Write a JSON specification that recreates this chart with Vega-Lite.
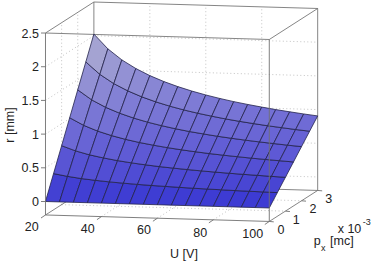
{"$schema":"https://vega.github.io/schema/vega-lite/v6.json","width":374,"height":263,"padding":0,"autosize":{"type":"none"},"background":"white","config":{"view":{"stroke":null}},
"encoding":{"x":{"field":"h","type":"quantitative","axis":null,"scale":{"domain":[3.74,137.43],"nice":false,"zero":false}},"y":{"field":"v","type":"quantitative","axis":null,"scale":{"domain":[-0.9125,2.99],"nice":false,"zero":false}}},
"layer":[
{"data":{"values":[
{"g":1,"h":[37.3,117.3],"v":[0.46,0.364]},{"g":2,"h":[37.3,117.3],"v":[0.96,0.864]},{"g":3,"h":[37.3,117.3],"v":[1.46,1.364]},{"g":4,"h":[37.3,117.3],"v":[1.96,1.864]},{"g":5,"h":[37.3,117.3],"v":[2.46,2.364]},
{"g":6,"h":[57.3,57.3],"v":[0.236,2.936]},{"g":7,"h":[77.3,77.3],"v":[0.212,2.912]},{"g":8,"h":[97.3,97.3],"v":[0.188,2.888]},
{"g":9,"h":[20,37.3],"v":[0,0.46]},{"g":10,"h":[20,37.3],"v":[0.5,0.96]},{"g":11,"h":[20,37.3],"v":[1,1.46]},{"g":12,"h":[20,37.3],"v":[1.5,1.96]},{"g":13,"h":[20,37.3],"v":[2,2.46]},
{"g":14,"h":[25.77,25.77],"v":[-0.047,2.653]},{"g":15,"h":[31.53,31.53],"v":[0.107,2.807]},
{"g":16,"h":[40,57.3],"v":[-0.224,0.236]},{"g":17,"h":[60,77.3],"v":[-0.248,0.212]},{"g":18,"h":[80,97.3],"v":[-0.272,0.188]},
{"g":19,"h":[25.77,105.77],"v":[-0.047,-0.143]},{"g":20,"h":[31.53,111.53],"v":[0.107,0.011]}]},
"transform":[{"flatten":["h","v"]},{"window":[{"op":"row_number","as":"o"}],"groupby":["g"]}],"mark":{"type":"line","stroke":"#b4b4b4","strokeWidth":0.8,"strokeDash":[1,2.5]},"encoding":{"detail":{"field":"g"},"order":{"field":"o","type":"quantitative"}}},
{"data":{"values":[
{"g":1,"h":[20,100,117.3,37.3,20],"v":[2.5,2.404,2.864,2.96,2.5]},
{"g":2,"h":[37.3,37.3],"v":[0.26,2.96]},{"g":3,"h":[117.3,117.3],"v":[0.164,2.864]},
{"g":4,"h":[20,37.3,117.3,100],"v":[-0.2,0.26,0.164,-0.296]}]},
"transform":[{"flatten":["h","v"]},{"window":[{"op":"row_number","as":"o"}],"groupby":["g"]}],"mark":{"type":"line","stroke":"#666666","strokeWidth":0.8},"encoding":{"detail":{"field":"g"},"order":{"field":"o","type":"quantitative"}}},
{"data":{"values":[
{"c":0,"z":0.16,"h":[20,25,27.88,22.88,20],"v":[0,-0.006,0.373,0.414,0]},
{"c":1,"z":0.48,"h":[22.88,27.88,30.77,25.77,22.88],"v":[0.414,0.373,0.751,0.828,0.414]},
{"c":2,"z":0.8,"h":[25.77,30.77,33.65,28.65,25.77],"v":[0.828,0.751,1.13,1.243,0.828]},
{"c":3,"z":1.12,"h":[28.65,33.65,36.53,31.53,28.65],"v":[1.243,1.13,1.508,1.657,1.243]},
{"c":4,"z":1.44,"h":[31.53,36.53,39.42,34.42,31.53],"v":[1.657,1.508,1.887,2.071,1.657]},
{"c":5,"z":1.76,"h":[34.42,39.42,42.3,37.3,34.42],"v":[2.071,1.887,2.265,2.485,2.071]},
{"c":10,"z":0.14,"h":[25,30,32.88,27.88,25],"v":[-0.006,-0.012,0.34,0.373,-0.006]},
{"c":11,"z":0.43,"h":[27.88,32.88,35.77,30.77,27.88],"v":[0.373,0.34,0.692,0.751,0.373]},
{"c":12,"z":0.72,"h":[30.77,35.77,38.65,33.65,30.77],"v":[0.751,0.692,1.045,1.13,0.751]},
{"c":13,"z":1.01,"h":[33.65,38.65,41.53,36.53,33.65],"v":[1.13,1.045,1.397,1.508,1.13]},
{"c":14,"z":1.3,"h":[36.53,41.53,44.42,39.42,36.53],"v":[1.508,1.397,1.749,1.887,1.508]},
{"c":15,"z":1.59,"h":[39.42,44.42,47.3,42.3,39.42],"v":[1.887,1.749,2.101,2.265,1.887]},
{"c":20,"z":0.13,"h":[30,35,37.88,32.88,30],"v":[-0.012,-0.018,0.314,0.34,-0.012]},
{"c":21,"z":0.4,"h":[32.88,37.88,40.77,35.77,32.88],"v":[0.34,0.314,0.646,0.692,0.34]},
{"c":22,"z":0.66,"h":[35.77,40.77,43.65,38.65,35.77],"v":[0.692,0.646,0.978,1.045,0.692]},
{"c":23,"z":0.93,"h":[38.65,43.65,46.53,41.53,38.65],"v":[1.045,0.978,1.31,1.397,1.045]},
{"c":24,"z":1.19,"h":[41.53,46.53,49.42,44.42,41.53],"v":[1.397,1.31,1.642,1.749,1.397]},
{"c":25,"z":1.46,"h":[44.42,49.42,52.3,47.3,44.42],"v":[1.749,1.642,1.973,2.101,1.749]},
{"c":30,"z":0.12,"h":[35,40,42.88,37.88,35],"v":[-0.018,-0.024,0.291,0.314,-0.018]},
{"c":31,"z":0.37,"h":[37.88,42.88,45.77,40.77,37.88],"v":[0.314,0.291,0.607,0.646,0.314]},
{"c":32,"z":0.62,"h":[40.77,45.77,48.65,43.65,40.77],"v":[0.646,0.607,0.922,0.978,0.646]},
{"c":33,"z":0.86,"h":[43.65,48.65,51.53,46.53,43.65],"v":[0.978,0.922,1.238,1.31,0.978]},
{"c":34,"z":1.11,"h":[46.53,51.53,54.42,49.42,46.53],"v":[1.31,1.238,1.553,1.642,1.31]},
{"c":35,"z":1.36,"h":[49.42,54.42,57.3,52.3,49.42],"v":[1.642,1.553,1.868,1.973,1.642]},
{"c":40,"z":0.12,"h":[40,45,47.88,42.88,40],"v":[-0.024,-0.03,0.272,0.291,-0.024]},
{"c":41,"z":0.35,"h":[42.88,47.88,50.77,45.77,42.88],"v":[0.291,0.272,0.573,0.607,0.291]},
{"c":42,"z":0.58,"h":[45.77,50.77,53.65,48.65,45.77],"v":[0.607,0.573,0.875,0.922,0.607]},
{"c":43,"z":0.81,"h":[48.65,53.65,56.53,51.53,48.65],"v":[0.922,0.875,1.177,1.238,0.922]},
{"c":44,"z":1.04,"h":[51.53,56.53,59.42,54.42,51.53],"v":[1.238,1.177,1.479,1.553,1.238]},
{"c":45,"z":1.28,"h":[54.42,59.42,62.3,57.3,54.42],"v":[1.553,1.479,1.78,1.868,1.553]},
{"c":50,"z":0.11,"h":[45,50,52.88,47.88,45],"v":[-0.03,-0.036,0.254,0.272,-0.03]},
{"c":51,"z":0.33,"h":[47.88,52.88,55.77,50.77,47.88],"v":[0.272,0.254,0.544,0.573,0.272]},
{"c":52,"z":0.55,"h":[50.77,55.77,58.65,53.65,50.77],"v":[0.573,0.544,0.835,0.875,0.573]},
{"c":53,"z":0.77,"h":[53.65,58.65,61.53,56.53,53.65],"v":[0.875,0.835,1.125,1.177,0.875]},
{"c":54,"z":0.99,"h":[56.53,61.53,64.42,59.42,56.53],"v":[1.177,1.125,1.415,1.479,1.177]},
{"c":55,"z":1.21,"h":[59.42,64.42,67.3,62.3,59.42],"v":[1.479,1.415,1.705,1.78,1.479]},
{"c":60,"z":0.1,"h":[50,55,57.88,52.88,50],"v":[-0.036,-0.042,0.238,0.254,-0.036]},
{"c":61,"z":0.31,"h":[52.88,57.88,60.77,55.77,52.88],"v":[0.254,0.238,0.518,0.544,0.254]},
{"c":62,"z":0.52,"h":[55.77,60.77,63.65,58.65,55.77],"v":[0.544,0.518,0.799,0.835,0.544]},
{"c":63,"z":0.73,"h":[58.65,63.65,66.53,61.53,58.65],"v":[0.835,0.799,1.079,1.125,0.835]},
{"c":64,"z":0.94,"h":[61.53,66.53,69.42,64.42,61.53],"v":[1.125,1.079,1.359,1.415,1.125]},
{"c":65,"z":1.15,"h":[64.42,69.42,72.3,67.3,64.42],"v":[1.415,1.359,1.639,1.705,1.415]},
{"c":70,"z":0.1,"h":[55,60,62.88,57.88,55],"v":[-0.042,-0.048,0.224,0.238,-0.042]},
{"c":71,"z":0.3,"h":[57.88,62.88,65.77,60.77,57.88],"v":[0.238,0.224,0.495,0.518,0.238]},
{"c":72,"z":0.5,"h":[60.77,65.77,68.65,63.65,60.77],"v":[0.518,0.495,0.767,0.799,0.518]},
{"c":73,"z":0.7,"h":[63.65,68.65,71.53,66.53,63.65],"v":[0.799,0.767,1.038,1.079,0.799]},
{"c":74,"z":0.9,"h":[66.53,71.53,74.42,69.42,66.53],"v":[1.079,1.038,1.31,1.359,1.079]},
{"c":75,"z":1.1,"h":[69.42,74.42,77.3,72.3,69.42],"v":[1.359,1.31,1.581,1.639,1.359]},
{"c":80,"z":0.1,"h":[60,65,67.88,62.88,60],"v":[-0.048,-0.054,0.21,0.224,-0.048]},
{"c":81,"z":0.29,"h":[62.88,67.88,70.77,65.77,62.88],"v":[0.224,0.21,0.474,0.495,0.224]},
{"c":82,"z":0.48,"h":[65.77,70.77,73.65,68.65,65.77],"v":[0.495,0.474,0.738,0.767,0.495]},
{"c":83,"z":0.67,"h":[68.65,73.65,76.53,71.53,68.65],"v":[0.767,0.738,1.002,1.038,0.767]},
{"c":84,"z":0.86,"h":[71.53,76.53,79.42,74.42,71.53],"v":[1.038,1.002,1.266,1.31,1.038]},
{"c":85,"z":1.05,"h":[74.42,79.42,82.3,77.3,74.42],"v":[1.31,1.266,1.529,1.581,1.31]},
{"c":90,"z":0.09,"h":[65,70,72.88,67.88,65],"v":[-0.054,-0.06,0.197,0.21,-0.054]},
{"c":91,"z":0.28,"h":[67.88,72.88,75.77,70.77,67.88],"v":[0.21,0.197,0.454,0.474,0.21]},
{"c":92,"z":0.46,"h":[70.77,75.77,78.65,73.65,70.77],"v":[0.474,0.454,0.711,0.738,0.474]},
{"c":93,"z":0.64,"h":[73.65,78.65,81.53,76.53,73.65],"v":[0.738,0.711,0.968,1.002,0.738]},
{"c":94,"z":0.83,"h":[76.53,81.53,84.42,79.42,76.53],"v":[1.002,0.968,1.225,1.266,1.002]},
{"c":95,"z":1.01,"h":[79.42,84.42,87.3,82.3,79.42],"v":[1.266,1.225,1.482,1.529,1.266]},
{"c":100,"z":0.09,"h":[70,75,77.88,72.88,70],"v":[-0.06,-0.066,0.185,0.197,-0.06]},
{"c":101,"z":0.27,"h":[72.88,77.88,80.77,75.77,72.88],"v":[0.197,0.185,0.436,0.454,0.197]},
{"c":102,"z":0.44,"h":[75.77,80.77,83.65,78.65,75.77],"v":[0.454,0.436,0.687,0.711,0.454]},
{"c":103,"z":0.62,"h":[78.65,83.65,86.53,81.53,78.65],"v":[0.711,0.687,0.938,0.968,0.711]},
{"c":104,"z":0.8,"h":[81.53,86.53,89.42,84.42,81.53],"v":[0.968,0.938,1.189,1.225,0.968]},
{"c":105,"z":0.98,"h":[84.42,89.42,92.3,87.3,84.42],"v":[1.225,1.189,1.44,1.482,1.225]},
{"c":110,"z":0.09,"h":[75,80,82.88,77.88,75],"v":[-0.066,-0.072,0.174,0.185,-0.066]},
{"c":111,"z":0.26,"h":[77.88,82.88,85.77,80.77,77.88],"v":[0.185,0.174,0.419,0.436,0.185]},
{"c":112,"z":0.43,"h":[80.77,85.77,88.65,83.65,80.77],"v":[0.436,0.419,0.665,0.687,0.436]},
{"c":113,"z":0.6,"h":[83.65,88.65,91.53,86.53,83.65],"v":[0.687,0.665,0.91,0.938,0.687]},
{"c":114,"z":0.77,"h":[86.53,91.53,94.42,89.42,86.53],"v":[0.938,0.91,1.156,1.189,0.938]},
{"c":115,"z":0.94,"h":[89.42,94.42,97.3,92.3,89.42],"v":[1.189,1.156,1.401,1.44,1.189]},
{"c":120,"z":0.08,"h":[80,85,87.88,82.88,80],"v":[-0.072,-0.078,0.162,0.174,-0.072]},
{"c":121,"z":0.25,"h":[82.88,87.88,90.77,85.77,82.88],"v":[0.174,0.162,0.403,0.419,0.174]},
{"c":122,"z":0.42,"h":[85.77,90.77,93.65,88.65,85.77],"v":[0.419,0.403,0.643,0.665,0.419]},
{"c":123,"z":0.58,"h":[88.65,93.65,96.53,91.53,88.65],"v":[0.665,0.643,0.884,0.91,0.665]},
{"c":124,"z":0.75,"h":[91.53,96.53,99.42,94.42,91.53],"v":[0.91,0.884,1.124,1.156,0.91]},
{"c":125,"z":0.91,"h":[94.42,99.42,102.3,97.3,94.42],"v":[1.156,1.124,1.364,1.401,1.156]},
{"c":130,"z":0.08,"h":[85,90,92.88,87.88,85],"v":[-0.078,-0.084,0.152,0.162,-0.078]},
{"c":131,"z":0.24,"h":[87.88,92.88,95.77,90.77,87.88],"v":[0.162,0.152,0.388,0.403,0.162]},
{"c":132,"z":0.4,"h":[90.77,95.77,98.65,93.65,90.77],"v":[0.403,0.388,0.624,0.643,0.403]},
{"c":133,"z":0.57,"h":[93.65,98.65,101.53,96.53,93.65],"v":[0.643,0.624,0.86,0.884,0.643]},
{"c":134,"z":0.73,"h":[96.53,101.53,104.42,99.42,96.53],"v":[0.884,0.86,1.096,1.124,0.884]},
{"c":135,"z":0.89,"h":[99.42,104.42,107.3,102.3,99.42],"v":[1.124,1.096,1.331,1.364,1.124]},
{"c":140,"z":0.08,"h":[90,95,97.88,92.88,90],"v":[-0.084,-0.09,0.142,0.152,-0.084]},
{"c":141,"z":0.24,"h":[92.88,97.88,100.77,95.77,92.88],"v":[0.152,0.142,0.373,0.388,0.152]},
{"c":142,"z":0.39,"h":[95.77,100.77,103.65,98.65,95.77],"v":[0.388,0.373,0.605,0.624,0.388]},
{"c":143,"z":0.55,"h":[98.65,103.65,106.53,101.53,98.65],"v":[0.624,0.605,0.836,0.86,0.624]},
{"c":144,"z":0.71,"h":[101.53,106.53,109.42,104.42,101.53],"v":[0.86,0.836,1.068,1.096,0.86]},
{"c":145,"z":0.86,"h":[104.42,109.42,112.3,107.3,104.42],"v":[1.096,1.068,1.299,1.331,1.096]},
{"c":150,"z":0.08,"h":[95,100,102.88,97.88,95],"v":[-0.09,-0.096,0.132,0.142,-0.09]},
{"c":151,"z":0.23,"h":[97.88,102.88,105.77,100.77,97.88],"v":[0.142,0.132,0.359,0.373,0.142]},
{"c":152,"z":0.38,"h":[100.77,105.77,108.65,103.65,100.77],"v":[0.373,0.359,0.587,0.605,0.373]},
{"c":153,"z":0.54,"h":[103.65,108.65,111.53,106.53,103.65],"v":[0.605,0.587,0.815,0.836,0.605]},
{"c":154,"z":0.69,"h":[106.53,111.53,114.42,109.42,106.53],"v":[0.836,0.815,1.043,1.068,0.836]},
{"c":155,"z":0.84,"h":[109.42,114.42,117.3,112.3,109.42],"v":[1.068,1.043,1.27,1.299,1.068]}
]},
"transform":[{"flatten":["h","v"]},{"window":[{"op":"row_number","as":"o"}],"groupby":["c"]}],"mark":{"type":"line","stroke":"#23234a","strokeWidth":0.8},"encoding":{"detail":{"field":"c"},"order":{"field":"o","type":"quantitative"},"fill":{"field":"z","type":"quantitative","legend":null,"scale":{"domain":[0,2],"range":["#3636d2","#b2b2d0"]}}}},
{"data":{"values":[
{"g":1,"h":[20,20],"v":[-0.2,2.5]},{"g":2,"h":[100,100],"v":[-0.296,2.404]},{"g":3,"h":[20,100],"v":[-0.2,-0.296]},
{"g":4,"h":[20,18.4],"v":[0,0]},{"g":5,"h":[20,18.4],"v":[0.5,0.5]},{"g":6,"h":[20,18.4],"v":[1,1]},{"g":7,"h":[20,18.4],"v":[1.5,1.5]},{"g":8,"h":[20,18.4],"v":[2,2]},{"g":9,"h":[20,18.4],"v":[2.5,2.5]},
{"g":10,"h":[20,18.4],"v":[-0.2,-0.245]},{"g":11,"h":[40,38.4],"v":[-0.224,-0.269]},{"g":12,"h":[60,58.4],"v":[-0.248,-0.293]},{"g":13,"h":[80,78.4],"v":[-0.272,-0.317]},{"g":14,"h":[100,98.4],"v":[-0.296,-0.341]},
{"g":15,"h":[100,101.6],"v":[-0.296,-0.302]},{"g":16,"h":[105.77,107.37],"v":[-0.143,-0.149]},{"g":17,"h":[111.53,113.13],"v":[0.011,0.005]},{"g":18,"h":[117.3,118.9],"v":[0.164,0.158]}]},
"transform":[{"flatten":["h","v"]}],"mark":{"type":"line","stroke":"#707070","strokeWidth":0.9},"encoding":{"detail":{"field":"g"}}},
{"data":{"values":[{"t":"2.5","h":17.68,"v":2.49},{"t":"2","h":17.68,"v":1.99},{"t":"1.5","h":17.68,"v":1.49},{"t":"1","h":17.68,"v":0.99},{"t":"0.5","h":17.68,"v":0.49},{"t":"0","h":17.68,"v":-0.01}]},
"mark":{"type":"text","align":"right","baseline":"middle","font":"Liberation Sans","fontSize":12.5,"fill":"#222222"},"encoding":{"text":{"field":"t"}}},
{"data":{"values":[{"t":"20","h":15.07,"v":-0.378},{"t":"40","h":35.08,"v":-0.404},{"t":"60","h":55.21,"v":-0.427},{"t":"80","h":75.33,"v":-0.463},{"t":"100","h":94.07,"v":-0.478},{"t":"0","h":104.18,"v":-0.423},{"t":"1","h":109.65,"v":-0.274},{"t":"2","h":115.62,"v":-0.116},{"t":"3","h":121.23,"v":0.042},{"t":"U [V]","h":69.51,"v":-0.783}]},
"mark":{"type":"text","align":"center","baseline":"middle","font":"Liberation Sans","fontSize":12.5,"fill":"#222222"},"encoding":{"text":{"field":"t"}}},
{"data":{"values":[{"t":"x 10","h":124.45,"v":-0.408},{"t":"p","h":115.87,"v":-0.586},{"t":"[mc]","h":121.7,"v":-0.586}]},
"mark":{"type":"text","align":"left","baseline":"middle","font":"Liberation Sans","fontSize":12.5,"fill":"#222222"},"encoding":{"text":{"field":"t"}}},
{"data":{"values":[{"t":"-3","h":133.39,"v":-0.304},{"t":"x","h":118.48,"v":-0.69}]},
"mark":{"type":"text","align":"left","baseline":"middle","font":"Liberation Sans","fontSize":9,"fill":"#222222"},"encoding":{"text":{"field":"t"}}},
{"data":{"values":[{"t":"r [mm]","h":7.31,"v":1.135}]},
"mark":{"type":"text","align":"center","baseline":"middle","angle":270,"font":"Liberation Sans","fontSize":12.5,"fill":"#222222"},"encoding":{"text":{"field":"t"}}}
]}
